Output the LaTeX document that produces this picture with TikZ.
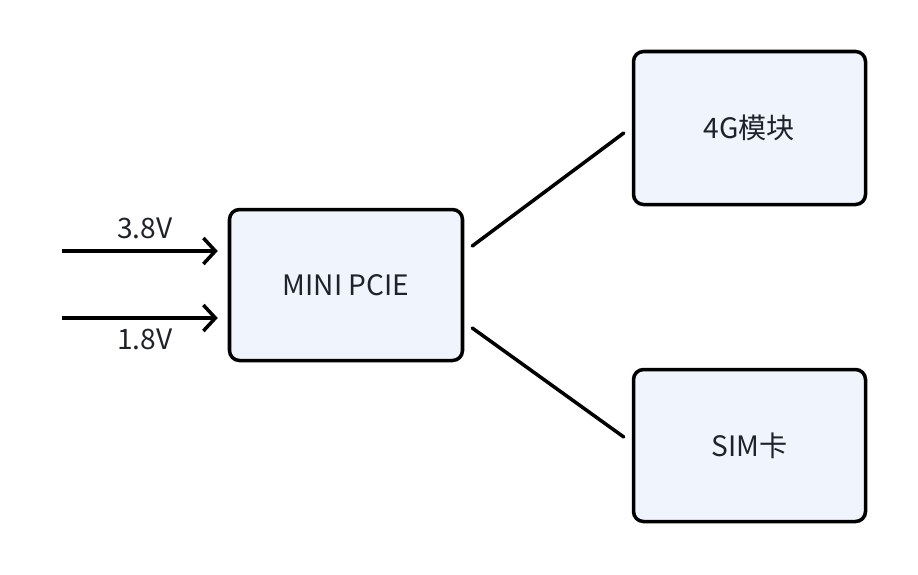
\documentclass[tikz,border=0pt]{standalone}
\usepackage{fontspec}
\setmainfont{Noto Sans CJK SC}
\usetikzlibrary{arrows.meta,positioning,calc}
\definecolor{boxfill}{HTML}{EFF4FD}
\definecolor{txtgray}{HTML}{1F2329}
\tikzset{
  block/.style={draw=black,line width=2pt,rounded corners=0.2cm,fill=boxfill,
    text=txtgray,font=\fontsize{16}{19}\selectfont},
  feed/.style={line width=2pt,-{Straight Barb[length=0.24cm,width=0.52cm,line width=2pt]},shorten >=0.2cm},
  link/.style={line width=2pt,line cap=round},
  volt/.style={text=txtgray,font=\fontsize{16}{19}\selectfont}
}
\begin{document}
\begin{tikzpicture}
\useasboundingbox (0,0) rectangle (18.36,-11.48); %canvas

\node[block,minimum width=4.66cm,minimum height=3.02cm] (pcie) at (6.92,-5.70) {MINI PCIE};
\node[block,minimum width=4.64cm,minimum height=3.06cm] (lte) at (14.99,-2.56) {4G模块};
\node[block,minimum width=4.64cm,minimum height=3.04cm] (sim) at (14.99,-8.91) {SIM卡};

\coordinate (in1) at (1.24,-5.02); %3.8V feed
\coordinate (in2) at (1.24,-6.36); %1.8V feed

\draw[feed] (in1) -- node[volt,above=0.09cm] {3.8V} (pcie.west |- in1);
\draw[feed] (in2) -- node[volt,below=0.06cm] {1.8V} (pcie.west |- in2);

\draw[link] ([shift={(0.16,0.78)}]pcie.east) -- ([shift={(-0.16,-0.1)}]lte.west); %to 4G
\draw[link] ([shift={(0.16,-0.86)}]pcie.east) -- ([shift={(-0.16,0.17)}]sim.west); %to SIM
\end{tikzpicture}
\end{document}
